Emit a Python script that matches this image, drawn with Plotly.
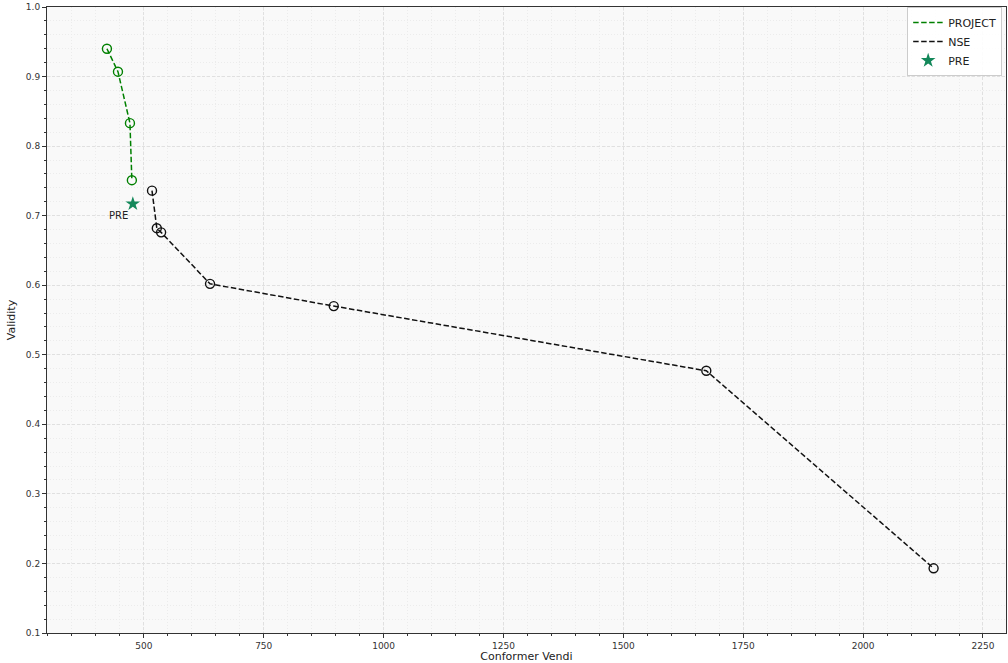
import plotly.graph_objects as go

project_vendi = [423, 446, 471, 475]
project_validity = [0.940, 0.907, 0.833, 0.751]

nse_vendi = [517, 527, 536, 638, 896, 1673, 2147]
nse_validity = [0.736, 0.682, 0.676, 0.602, 0.570, 0.477, 0.193]

pre_vendi = [477]
pre_validity = [0.717]

x_ticks = [500, 750, 1000, 1250, 1500, 1750, 2000, 2250]
y_ticks = [0.1, 0.2, 0.3, 0.4, 0.5, 0.6, 0.7, 0.8, 0.9, 1.0]

GREEN = "#008000"
BLACK = "#111111"
STAR = "#13885a"
FONT = "DejaVu Sans"
LINE_DASH = "5.5px,2.5px"

fig = go.Figure()

fig.add_trace(go.Scatter(x=project_vendi, y=project_validity, mode="lines", name="PROJECT",
                         line=dict(color=GREEN, width=1.5, dash=LINE_DASH)))
fig.add_trace(go.Scatter(x=project_vendi, y=project_validity, mode="markers", showlegend=False,
                         marker=dict(symbol="circle-open", size=9, color=GREEN, line=dict(width=1.4, color=GREEN))))
fig.add_trace(go.Scatter(x=nse_vendi, y=nse_validity, mode="lines", name="NSE",
                         line=dict(color=BLACK, width=1.5, dash=LINE_DASH)))
fig.add_trace(go.Scatter(x=nse_vendi, y=nse_validity, mode="markers", showlegend=False,
                         marker=dict(symbol="circle-open", size=9, color=BLACK, line=dict(width=1.4, color=BLACK))))
fig.add_trace(go.Scatter(x=pre_vendi, y=pre_validity, mode="markers", name="PRE",
                         marker=dict(symbol="star", size=11, color=STAR)))

fig.add_annotation(x=pre_vendi[0], y=pre_validity[0], text="PRE", showarrow=False,
                   xshift=-14, yshift=-12, font=dict(family=FONT, size=10, color="#222"))

axis_common = dict(
    showline=True, linecolor="#333", linewidth=1, mirror=True,
    ticks="outside", ticklen=4, tickwidth=1, tickcolor="#333",
    tickfont=dict(family=FONT, size=9, color="#333"),
    showgrid=True, gridcolor="#e0e0e0", griddash="3px,2px", gridwidth=1,
    zeroline=False,
)

fig.update_xaxes(range=[298, 2298], tickvals=x_ticks,
                 title=dict(text="Conformer Vendi", font=dict(family=FONT, size=11, color="#222"), standoff=4),
                 minor=dict(dtick=50, ticks="outside", ticklen=2, tickcolor="#333",
                            showgrid=True, gridcolor="#ececec", griddash="1px,2px"),
                 **axis_common)
fig.update_yaxes(range=[0.1, 1.0], tickvals=y_ticks, tickformat=".1f",
                 title=dict(text="Validity", font=dict(family=FONT, size=11, color="#222"), standoff=8),
                 minor=dict(dtick=0.02, ticks="outside", ticklen=2, tickcolor="#333",
                            showgrid=True, gridcolor="#ececec", griddash="1px,2px"),
                 **axis_common)

fig.update_layout(
    width=1008, height=663,
    margin=dict(l=47, r=2, t=7, b=30),
    paper_bgcolor="white", plot_bgcolor="#f9f9f9",
    font=dict(family=FONT),
    legend=dict(x=0.996, y=1.0, xanchor="right", yanchor="top",
                bgcolor="rgba(255,255,255,0.9)", bordercolor="#cccccc", borderwidth=1,
                font=dict(family=FONT, size=11, color="#222"),
                itemwidth=30, tracegroupgap=2),
)

fig.write_html("out.html", config={"displayModeBar": False},
               post_script="document.body.style.margin='0px';document.body.style.overflow='hidden';")
